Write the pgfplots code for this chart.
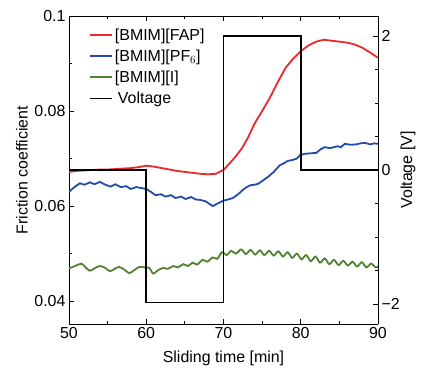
\documentclass[border=0pt]{standalone}
\usepackage{pgfplots}
\pgfplotsset{compat=1.18}
\usepackage{fontspec}
\setmainfont{Liberation Sans}
\definecolor{cred}{RGB}{235,40,45}
\definecolor{cblue}{RGB}{35,75,170}
\definecolor{cgreen}{RGB}{80,130,50}
\newcommand{\ff}{\fontsize{16}{18}\selectfont}
\pgfplotsset{
  every axis/.append style={
    scale only axis, width=309bp, height=308bp,
    at={(0,0)}, anchor=south west,
    xmin=50, xmax=90,
    tick align=inside, major tick length=5bp, minor tick length=3bp,
    /pgf/number format/assume math mode=true,
    tick label style={font=\ff},
    label style={font=\ff},
    axis line style={line width=0.9bp},
    every tick/.style={black, line width=0.8bp},
  }
}
\begin{document}
\begin{tikzpicture}
\useasboundingbox (-69bp,-44bp) rectangle (356bp,324bp);
\begin{axis}[
  ymin=0.0352, ymax=0.1,
  axis y line*=left,
  xtick={50,60,70,80,90}, minor x tick num=1,
  ytick={0.04,0.06,0.08,0.1}, yticklabels={0.04,0.06,0.08,0.1},
  minor y tick num=1,
  xlabel={Sliding time [min]},
  ylabel={Friction coefficient},
  xlabel style={at={(axis description cs:0.5,-0.11)}, anchor=center},
  ylabel style={at={(axis description cs:-0.152,0.5)}, anchor=center},
]
\addplot[cred, line width=1.8bp] coordinates {
(50,0.0672)(51,0.0674)(52,0.0675)(53,0.0676)(54,0.0677)(55,0.0677)(56,0.0678)(57,0.0679)(58,0.0680)(59,0.0682)(60,0.0685)(61,0.0683)(62,0.0680)(63,0.0677)(64,0.0674)(65,0.0672)(66,0.0670)(67,0.0668)(68,0.0667)(69,0.0668)(70,0.0676)
(70.8,0.0690)(71.6,0.0705)(72.4,0.0722)(73.2,0.0745)(74,0.0773)(75,0.0800)(76,0.0828)(77,0.0860)(78,0.0890)(79,0.0910)(80,0.0926)(81,0.0938)(82,0.0946)(83,0.0950)(84,0.0948)(85,0.0946)(86,0.0944)(87,0.0940)(88,0.0933)(89,0.0923)(90,0.0912)
};
\addplot[cblue, line width=1.8bp] coordinates {
(50.0,0.0630)(50.7,0.0640)(51.4,0.0648)(52.0,0.0645)(52.7,0.0650)(53.3,0.0646)(54.0,0.0651)(54.7,0.0645)(55.4,0.0641)(56.0,0.0646)(56.7,0.0640)(57.4,0.0642)(58.0,0.0636)(58.7,0.0640)(59.4,0.0638)(60.0,0.0636)(60.6,0.0630)(61.2,0.0623)(61.9,0.0625)(62.5,0.0620)(63.2,0.0623)(63.8,0.0617)(64.5,0.0620)(65.1,0.0615)(65.8,0.0619)(66.4,0.0614)(67.0,0.0613)(67.7,0.0610)(68.6,0.0600)(69.3,0.0606)(69.9,0.0611)(70.6,0.0614)(71.2,0.0617)(71.9,0.0625)(72.5,0.0634)(73.0,0.0640)(73.5,0.0644)(74.0,0.0645)(74.5,0.0647)(75.2,0.0655)(75.8,0.0662)(76.5,0.0672)(77.3,0.0686)(77.8,0.0690)(78.3,0.0695)(78.9,0.0697)(79.5,0.0700)(79.9,0.0707)(80.5,0.0710)(81.2,0.0711)(82.0,0.0712)(82.6,0.0720)(83.1,0.0724)(83.8,0.0722)(84.3,0.0724)(84.8,0.0726)(85.2,0.0724)(85.7,0.0731)(86.5,0.0729)(87.2,0.0730)(87.7,0.0732)(88.3,0.0733)(89.0,0.0730)(89.5,0.0732)(90.0,0.0731)
};
\addplot[cgreen, line width=1.8bp, smooth, tension=0.5] coordinates {
(50.0,0.0469)(50.8,0.0474)(51.6,0.0479)(52.1,0.0472)(52.7,0.0464)(53.4,0.0470)(54.0,0.0474)(54.7,0.0470)(55.3,0.0463)(55.9,0.0468)(56.5,0.0472)(57.2,0.0466)(57.8,0.0459)(58.5,0.0466)(59.1,0.0472)(59.8,0.0471)(60.4,0.0470)(60.9,0.0458)(61.5,0.0465)(62.2,0.0470)(62.8,0.0468)(63.5,0.0474)(64.1,0.0471)(64.8,0.0478)(65.4,0.0474)(66.0,0.0481)(66.6,0.0477)(67.3,0.0487)(67.9,0.0483)(68.6,0.0492)(69.2,0.0489)(69.8,0.0503)(70.4,0.0497)(71.0,0.0506)(71.6,0.0500)(72.3,0.0509)(72.9,0.0499)(73.5,0.0508)(74.1,0.0498)(74.7,0.0507)(75.3,0.0497)(75.9,0.0506)(76.5,0.0496)(77.1,0.0505)(77.7,0.0494)(78.3,0.0503)(78.9,0.0491)(79.5,0.0500)(80.1,0.0488)(80.7,0.0497)(81.3,0.0484)(81.9,0.0494)(82.5,0.0481)(83.1,0.0490)(83.7,0.0478)(84.3,0.0487)(84.9,0.0476)(85.5,0.0485)(86.1,0.0475)(86.7,0.0483)(87.3,0.0473)(87.9,0.0482)(88.5,0.0471)(89.1,0.0479)(89.7,0.0471)(90.0,0.0473)
};
\end{axis}
\begin{axis}[
  ymin=-2.3, ymax=2.3,
  axis x line=none,
  axis y line*=right,
  ytick={-2,0,2}, yticklabels={−2,0,2},
  minor y tick num=3,
  ylabel={Voltage [V]},
  ylabel style={at={(axis description cs:1.097,0.5)}, anchor=center},
  legend style={at={(axis description cs:0.055,0.972)}, anchor=north west,
    draw=none, fill=none, font=\ff, row sep=4bp, cells={anchor=west}},
  legend image code/.code={\draw[#1] (0bp,0bp) -- (22bp,0bp);},
]
\addlegendimage{cred, line width=1.8bp}
\addlegendentry{[BMIM][FAP]}
\addlegendimage{cblue, line width=1.8bp}
\addlegendentry{[BMIM][PF$_6$]}
\addlegendimage{cgreen, line width=1.8bp}
\addlegendentry{[BMIM][I]}
\addplot[black, line width=1.8bp] coordinates {
(50,0)(60,0)(60,-1.98)(70,-1.98)(70,2.0)(80,2.0)(80,0)(90,0)
};
\addlegendentry{\hspace{3bp}Voltage}
\end{axis}
\end{tikzpicture}
\end{document}
